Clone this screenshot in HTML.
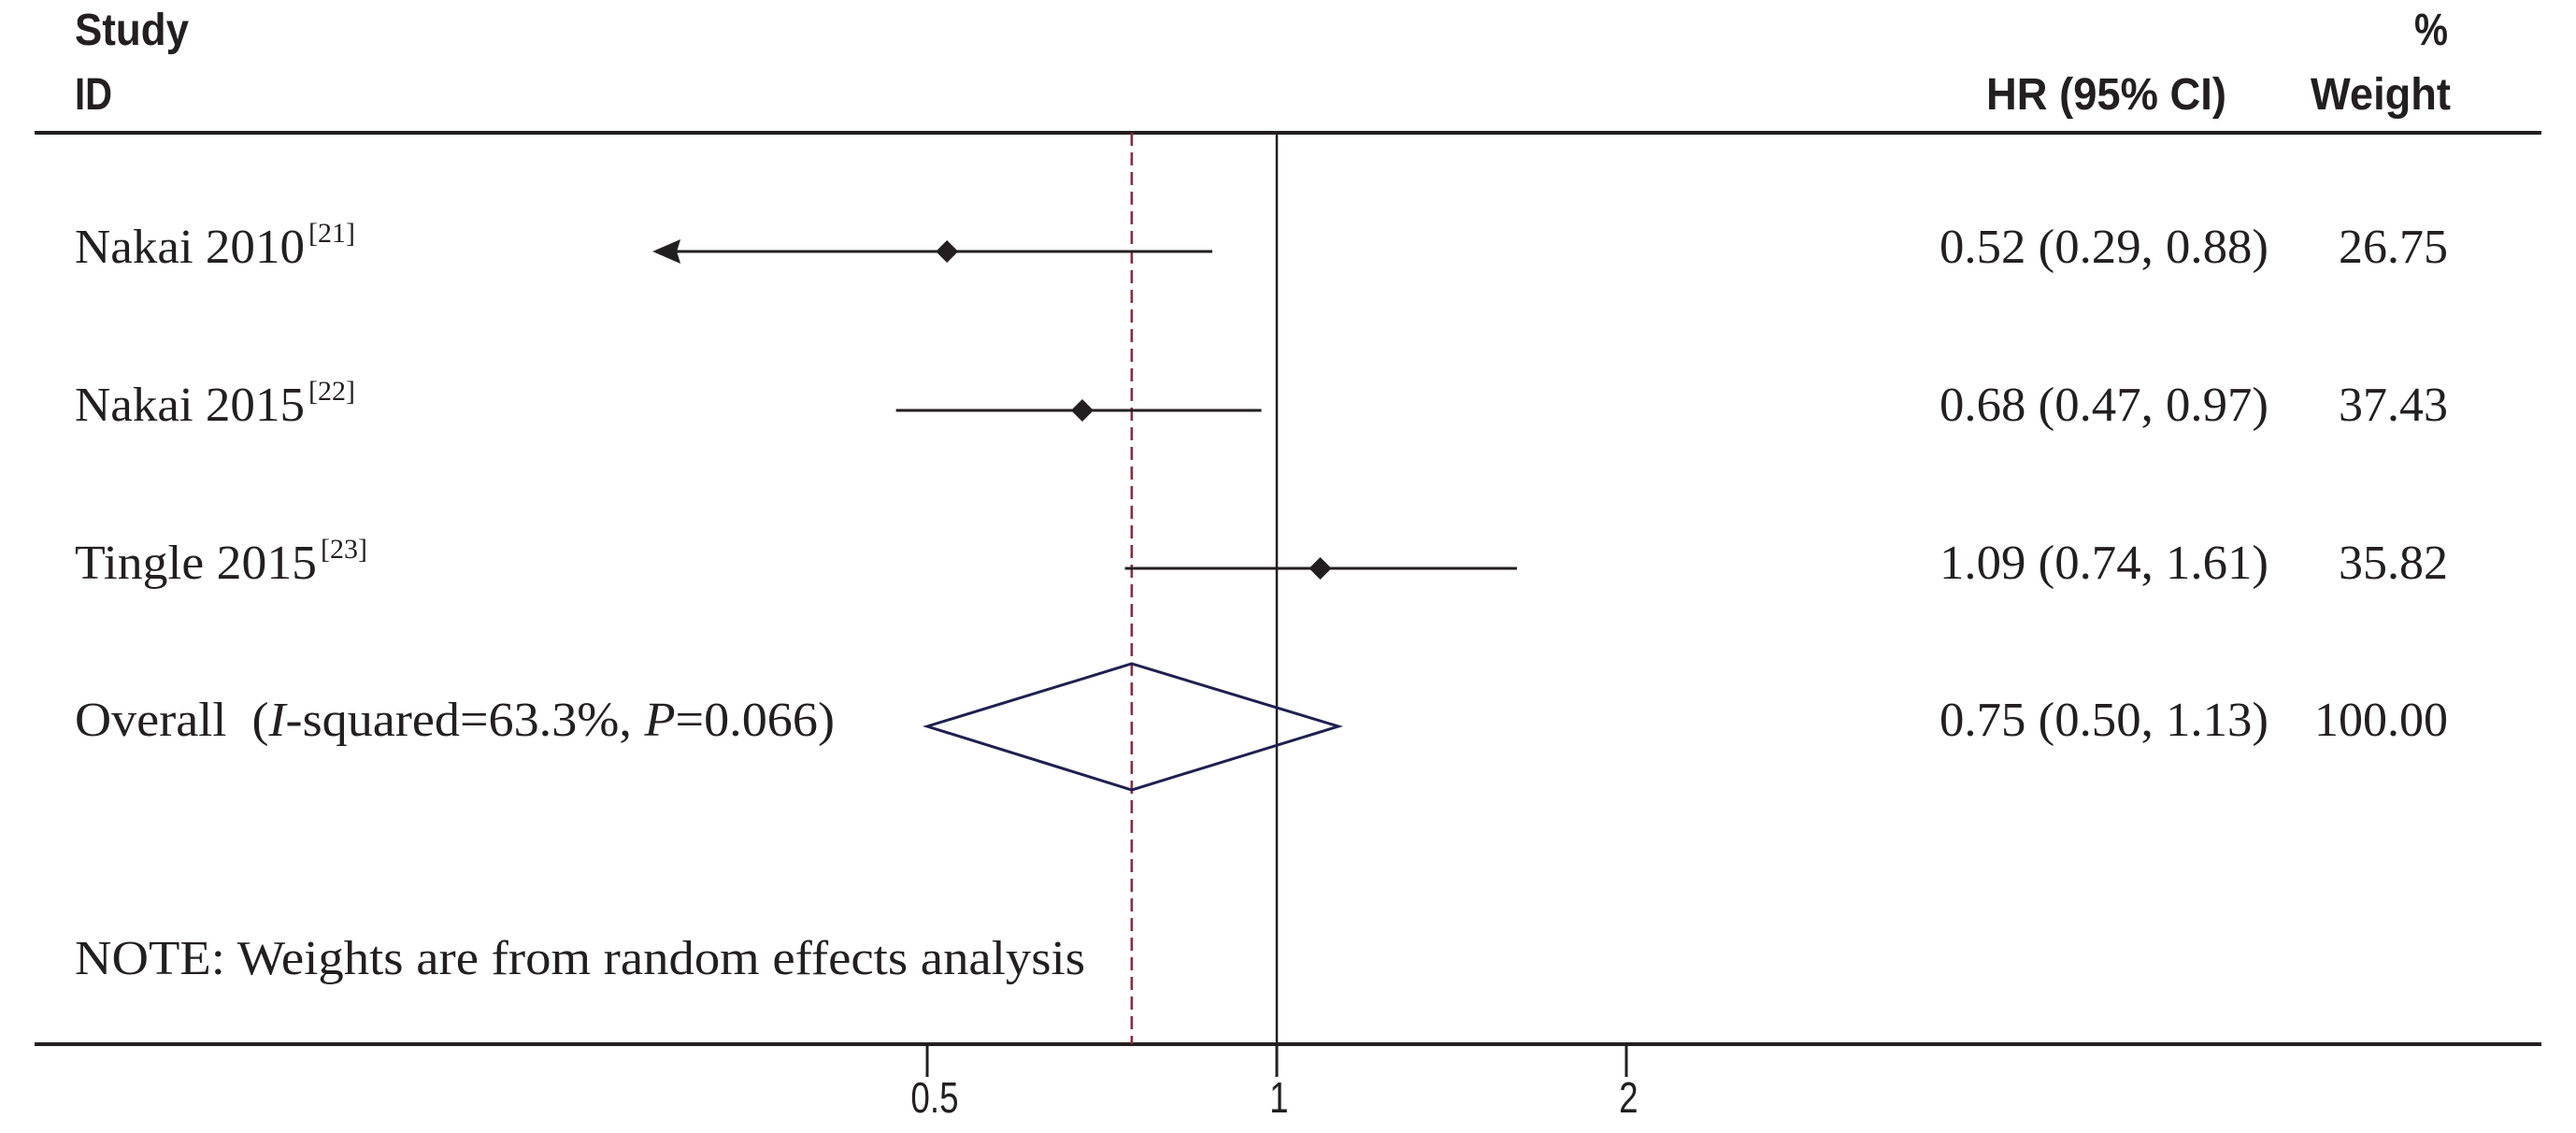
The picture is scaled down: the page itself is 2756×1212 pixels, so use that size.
<!DOCTYPE html>
<html><head><meta charset="utf-8"><style>
html,body{margin:0;padding:0;background:#fff;}
svg{display:block;}
.serif{font-family:"Liberation Serif",serif;fill:#231f20;}
.sans{font-family:"Liberation Sans",sans-serif;fill:#231f20;}
</style></head><body>
<svg id="chart" width="2756" height="1212" viewBox="0 0 2756 1212" xmlns="http://www.w3.org/2000/svg">
<g id="hdr">
<text class="sans" x="80" y="48" font-size="48" font-weight="bold" textLength="122" lengthAdjust="spacingAndGlyphs">Study</text>
<text class="sans" x="80" y="117" font-size="48" font-weight="bold" textLength="40" lengthAdjust="spacingAndGlyphs">ID</text>
<text class="sans" x="2125" y="117" font-size="48" font-weight="bold" textLength="257" lengthAdjust="spacingAndGlyphs">HR (95% CI)</text>
<text class="sans" x="2583" y="48" font-size="48" font-weight="bold" textLength="36" lengthAdjust="spacingAndGlyphs">%</text>
<text class="sans" x="2472" y="117" font-size="48" font-weight="bold" textLength="150" lengthAdjust="spacingAndGlyphs">Weight</text>
</g>
<line x1="37" y1="142" x2="2719" y2="142" stroke="#231f20" stroke-width="4"/>
<line x1="37" y1="1117" x2="2719" y2="1117" stroke="#231f20" stroke-width="4"/>
<g id="marks"></g>
<text class="serif" x="80" y="1042" font-size="52" textLength="1081" lengthAdjust="spacingAndGlyphs">NOTE: Weights are from random effects analysis</text>
</svg>
<script>
const studies = ["Nakai 2010", "Nakai 2015", "Tingle 2015"];
const refs = ["[21]", "[22]", "[23]"];
const hr = [0.52, 0.68, 1.09];
const lower = [0.29, 0.47, 0.74];
const upper = [0.88, 0.97, 1.61];
const weights = ["26.75", "37.43", "35.82"];
const clippedLow = [true, false, false];
const overallHr = 0.75, overallLower = 0.50, overallUpper = 1.13;
const overallWeight = "100.00";
const tickValues = [0.5, 1, 2];
const tickLabels = ["0.5", "1", "2"];

const NS = "http://www.w3.org/2000/svg";
const svg = document.getElementById('marks');
function xs(v){ return 1366 + 374 * Math.log2(v); }
const rowY = [269, 439, 608];
const rowBase = [281, 450, 619];
function mk(tag, attrs, parent){ const e=document.createElementNS(NS,tag); for(const k in attrs) e.setAttribute(k,attrs[k]); (parent||svg).appendChild(e); return e; }
function fmt(v){ return v.toFixed(2); }

// reference lines
const nullLine = mk('line',{x1:xs(1),y1:142,x2:xs(1),y2:1117,stroke:'#231f20','stroke-width':2.5});


const dash = mk('line',{x1:xs(overallHr),y1:142,x2:xs(overallHr),y2:1117,stroke:'#8b2a3c','stroke-width':2.5,'stroke-dasharray':'14 7'});



for(let i=0;i<studies.length;i++){
  const y=rowY[i];
  const x1 = xs(lower[i]) + (clippedLow[i]?20:0);
  const ci = mk('line',{x1:x1,y1:y,x2:xs(upper[i]),y2:y,stroke:'#231f20','stroke-width':3});
  
  
  if(clippedLow[i]){
    const xl=xs(lower[i]);
    const ar = mk('polygon',{points:`${xl},${y} ${xl+30},${y-13} ${xl+26},${y} ${xl+30},${y+13}`,fill:'#231f20'});
    
    
  }
  const cx=xs(hr[i]);
  const pt = mk('polygon',{points:`${cx-12},${y} ${cx},${y-12} ${cx+12},${y} ${cx},${y+12}`,fill:'#231f20'});
  
  
  const lab = mk('text',{class:'serif',x:80,y:rowBase[i],'font-size':52});
  
  
  lab.textContent = studies[i];
  const w = studies[i].startsWith('Tingle') ? 259 : 246;
  lab.setAttribute('textLength', w); lab.setAttribute('lengthAdjust','spacingAndGlyphs');
  const sup = mk('text',{class:'serif',x:80+w+4,y:rowBase[i]-22,'font-size':30,textLength:50,lengthAdjust:'spacingAndGlyphs'});
  
  
  sup.textContent = refs[i];
  const hrT = mk('text',{class:'serif',x:2075,y:rowBase[i],'font-size':52,textLength:352,lengthAdjust:'spacingAndGlyphs'});
  
  
  hrT.textContent = `${fmt(hr[i])} (${fmt(lower[i])}, ${fmt(upper[i])})`;
  const wT = mk('text',{class:'serif',x:2619,y:rowBase[i],'font-size':52,'text-anchor':'end'});
  
  
  wT.textContent = weights[i];
}
// overall diamond
const oy=777;
const dia = mk('polygon',{points:`${xs(overallLower)},${oy} ${xs(overallHr)},${oy-67} ${xs(overallUpper)},${oy} ${xs(overallHr)},${oy+68}`,fill:'none',stroke:'#1f2050','stroke-width':3});


const ol = mk('text',{class:'serif',x:80,y:787,'font-size':52,textLength:813,lengthAdjust:'spacingAndGlyphs'});


ol.innerHTML = 'Overall\u00a0\u00a0(<tspan font-style="italic">I</tspan>-squared=63.3%, <tspan font-style="italic">P</tspan>=0.066)';
const oh = mk('text',{class:'serif',x:2075,y:787,'font-size':52,textLength:352,lengthAdjust:'spacingAndGlyphs'});


oh.textContent = `${fmt(overallHr)} (${fmt(overallLower)}, ${fmt(overallUpper)})`;
const ow = mk('text',{class:'serif',x:2619,y:787,'font-size':52,'text-anchor':'end'});


ow.textContent = overallWeight;
// ticks
for(let i=0;i<tickValues.length;i++){
  const x=xs(tickValues[i]);
  const t = mk('line',{x1:x,y1:1117,x2:x,y2:1152,stroke:'#231f20','stroke-width':3});
  
  
  const tl = mk('text',{class:'sans',x:x+(tickLabels[i].length>1?10:3),y:1190,'font-size':46,'text-anchor':'middle'});
  
  
  tl.textContent = tickLabels[i];
  tl.setAttribute('transform',`translate(${x} 0) scale(0.8 1) translate(${-x} 0)`);
}
</script>
</body></html>
